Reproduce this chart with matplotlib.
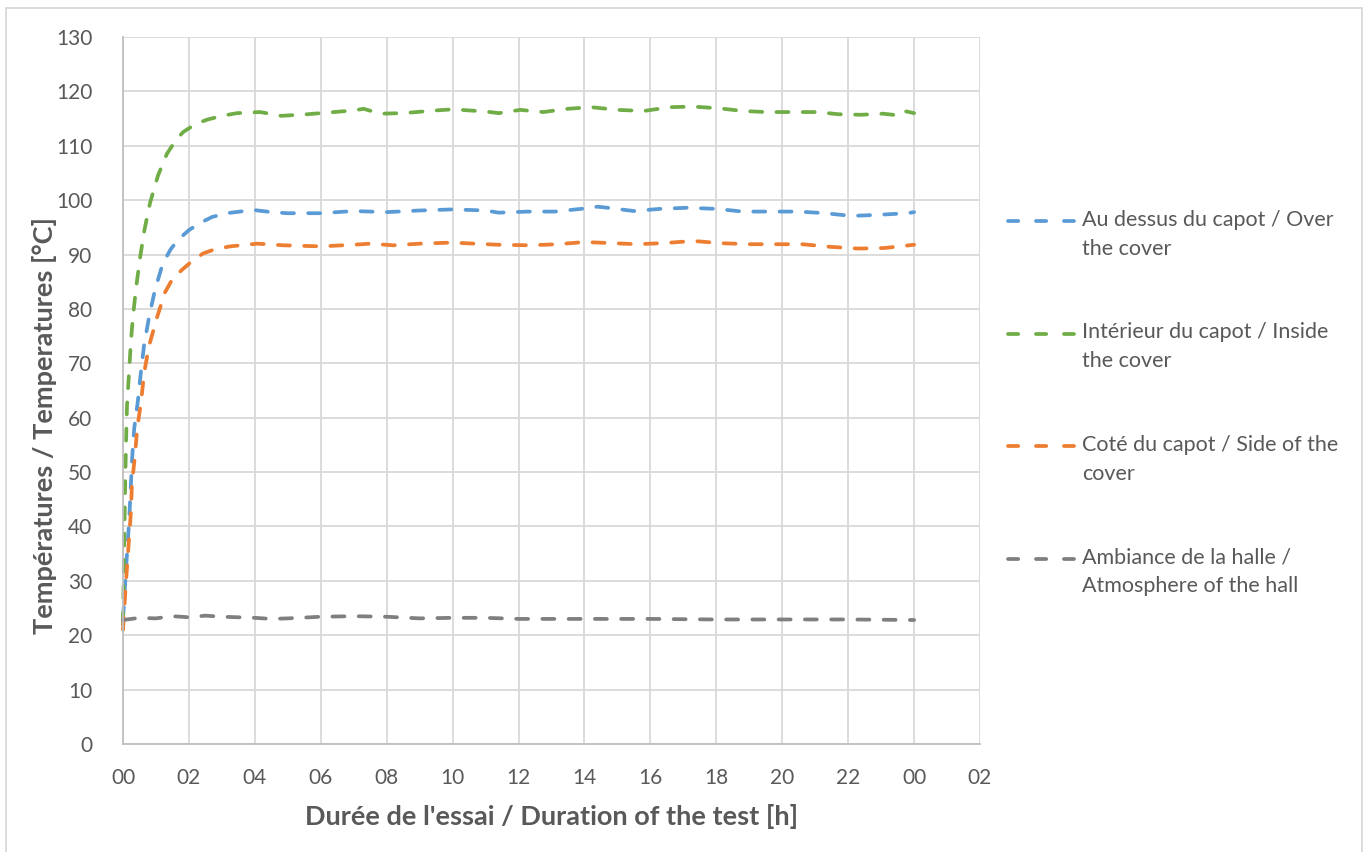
import matplotlib.pyplot as plt
from matplotlib.lines import Line2D
from matplotlib.patches import Rectangle
from matplotlib.ticker import FuncFormatter, MultipleLocator

plt.rcParams['font.family'] = ['Lato', 'DejaVu Sans']

# --- Données ---
t_dessus = [0, 0.05, 0.1, 0.15, 0.2, 0.24, 0.28, 0.34, 0.45, 0.54, 0.64, 0.79, 0.97, 1.21,
            1.45, 1.67, 2.0, 2.34, 2.7, 3.15, 3.95, 4.5, 4.98, 6.0, 7.0, 8.0, 9.0, 10.0,
            11.0, 11.4, 12.3, 13.1, 13.9, 14.4, 14.7, 15.5, 16.3, 17.1, 18.0, 18.8, 19.6,
            20.5, 21.3, 22.1, 22.9, 23.8, 24.0]
T_dessus = [23, 28, 33, 37.5, 42.7, 47.8, 52.8, 58, 63, 68.2, 73.4, 78.5, 83.5, 88.4,
            91, 92.7, 94.5, 95.8, 96.9, 97.6, 98.2, 97.8, 97.6, 97.6, 98, 97.8, 98.1, 98.3,
            98.1, 97.7, 97.9, 97.9, 98.4, 98.8, 98.6, 98, 98.4, 98.6, 98.4, 97.9, 97.9,
            97.9, 97.6, 97.1, 97.3, 97.6, 97.8]

t_interieur = [0, 0.03, 0.06, 0.09, 0.12, 0.18, 0.24, 0.3, 0.4, 0.52, 0.65, 0.82, 1.06, 1.33,
               1.6, 1.82, 2.2, 2.55, 3.0, 3.46, 4.16, 4.8, 5.6, 6.4, 7.0, 7.3, 7.8, 8.5,
               9.5, 10.0, 11.0, 11.4, 12.05, 12.75, 13.5, 14.2, 15.0, 15.8, 16.6, 17.3,
               18.06, 18.8, 19.5, 20.3, 21.06, 21.7, 22.4, 23.06, 23.5, 23.7, 24.0]
T_interieur = [22, 35, 46, 55, 62, 68, 74, 78.5, 84, 89.5, 94.5, 99.5, 104.5, 108.5,
               111, 112.5, 114, 114.8, 115.5, 116, 116.2, 115.5, 115.8, 116.2, 116.5, 116.8, 115.9, 116,
               116.5, 116.7, 116.3, 116, 116.6, 116.2, 116.8, 117.1, 116.6, 116.4, 117.1, 117.2,
               116.9, 116.4, 116.2, 116.2, 116.2, 115.8, 115.7, 115.9, 115.6, 116.4, 116]

t_cote = [0, 0.06, 0.12, 0.18, 0.24, 0.27, 0.36, 0.43, 0.55, 0.64, 0.79, 1.03, 1.27, 1.5,
          1.79, 2.1, 2.43, 2.8, 3.25, 4.07, 4.86, 6.0, 7.0, 7.5, 8.2, 9.0, 10.0, 11.0,
          11.4, 12.35, 13.2, 14.0, 14.8, 15.6, 16.4, 17.3, 18.1, 19.0, 19.8, 20.6, 21.5,
          22.3, 23.1, 24.0]
T_cote = [21, 27, 32.4, 37.5, 42.7, 47.8, 52.8, 58, 63, 68.2, 73.2, 78.4, 83, 85.5,
          87.2, 88.8, 90.2, 91, 91.5, 92, 91.7, 91.5, 91.8, 92, 91.7, 92, 92.2, 91.9,
          91.8, 91.7, 91.9, 92.3, 92.1, 91.9, 92.1, 92.5, 92.1, 91.9, 91.9, 91.9, 91.4,
          91.1, 91.2, 91.8]

t_ambiance = [0, 0.5, 1, 1.5, 2, 2.5, 3, 4, 4.5, 5, 6, 7, 8, 9, 10, 11, 12, 14, 16, 18,
              20, 22, 24]
T_ambiance = [22.8, 23.2, 23.1, 23.5, 23.3, 23.6, 23.4, 23.2, 23.0, 23.1, 23.4, 23.5,
              23.4, 23.1, 23.2, 23.2, 23.0, 23.0, 23.0, 22.9, 22.9, 22.9, 22.8]

series = [
    (t_dessus, T_dessus, '#5B9BD5', 'Au dessus du capot / Over\nthe cover'),
    (t_interieur, T_interieur, '#70AD47', 'Intérieur du capot / Inside\nthe cover'),
    (t_cote, T_cote, '#ED7D31', 'Coté du capot / Side of the\ncover'),
    (t_ambiance, T_ambiance, '#7F7F7F', 'Ambiance de la halle /\nAtmosphere of the hall'),
]

W, H = 1366, 852
fig = plt.figure(figsize=(W / 100, H / 100), dpi=100)
ax = fig.add_axes([123 / W, 1 - 744 / H, (980 - 123) / W, (744 - 37) / H])

txt = '#595959'
grid = '#D9D9D9'
lw = 2.7
dash = (3.2, 3.8)

for t, T, c, lab in series:
    ax.plot(t, T, color=c, lw=lw, dashes=dash, dash_capstyle='round',
            solid_capstyle='round', clip_on=False)

ax.set_xlim(0, 26)
ax.set_ylim(0, 130)
ax.xaxis.set_major_locator(MultipleLocator(2))
ax.yaxis.set_major_locator(MultipleLocator(10))
ax.xaxis.set_major_formatter(FuncFormatter(lambda x, p: f'{int(round(x)) % 24:02d}'))
ax.grid(True, color=grid, lw=1.3)
ax.set_axisbelow(True)
for s in ['top', 'right']:
    ax.spines[s].set_visible(False)
for s in ['left', 'bottom']:
    ax.spines[s].set_color('#BFBFBF')
    ax.spines[s].set_linewidth(1.3)
ax.tick_params(length=0, labelsize=15, labelcolor=txt)
ax.tick_params(axis='x', pad=17)
ax.tick_params(axis='y', pad=22)

ax.set_xlabel("Durée de l'essai / Duration of the test [h]", fontsize=19.5,
              fontweight='bold', color=txt, labelpad=12)
fig.text(45 / W, 1 - 426 / H, 'Températures / Temperatures [°C]', rotation=90,
         fontsize=19.5, fontweight='bold', color=txt, ha='center', va='center')

# légende (à droite, ligne alignée sur la 1re ligne du texte)
y0 = 221
for i, (t, T, c, lab) in enumerate(series):
    ypx = y0 + i * 112.5
    yy = 1 - ypx / H
    fig.add_artist(Line2D([1008 / W, 1074 / W], [yy, yy], color=c, lw=lw,
                          dashes=(2.73, 4.73), dash_capstyle='round'))
    fig.text(1082 / W, 1 - (ypx - 11) / H, lab, fontsize=15.5, color=txt,
             ha='left', va='top', linespacing=1.55)

# cadre du graphique
fig.add_artist(Rectangle((6 / W, -0.02), (1362 - 6) / W, 1 - 8 / H + 0.02,
                         fill=False, edgecolor='#D9D9D9', lw=1.3,
                         transform=fig.transFigure))

fig.savefig('out.png', dpi=100, facecolor='white')
